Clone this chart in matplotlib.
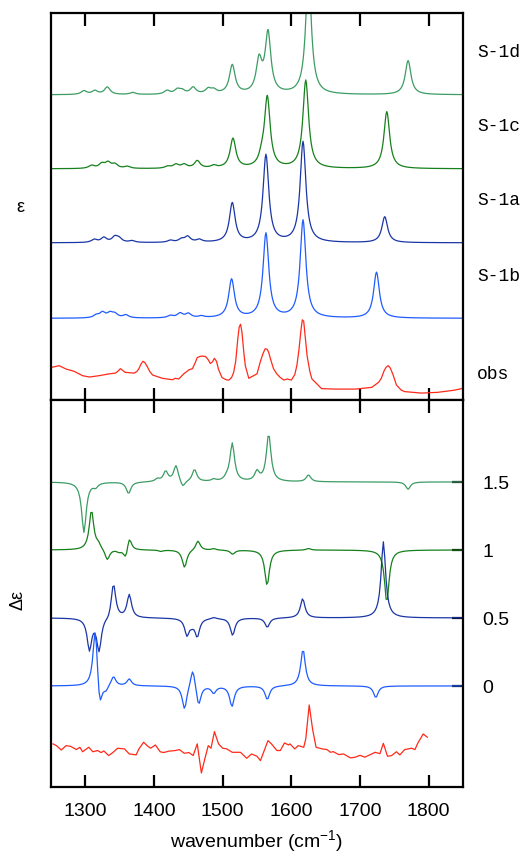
import matplotlib.pyplot as plt
import numpy as np

plt.rcParams['font.family'] = ['Liberation Sans', 'DejaVu Sans']
plt.rcParams['mathtext.default'] = 'regular'

# ---- calculated IR bands: centre (cm-1), intensity ----
s1d_pos = [1298, 1314, 1332, 1369, 1419, 1434, 1441, 1457, 1479, 1487, 1514, 1553, 1566, 1625, 1770]
s1d_amp = [0.05, 0.05, 0.10, 0.027, 0.05, 0.06, 0.045, 0.09, 0.065, 0.05, 0.39, 0.43, 0.81, 1.62, 0.46]
s1c_pos = [1309, 1324, 1333, 1343, 1361, 1420, 1432, 1444, 1463, 1487, 1515, 1557, 1565, 1621, 1739]
s1c_amp = [0.04, 0.06, 0.075, 0.055, 0.027, 0.027, 0.05, 0.05, 0.10, 0.033, 0.40, 0.10, 0.95, 1.19, 0.77]
s1a_pos = [1313, 1327, 1343, 1349, 1368, 1424, 1440, 1449, 1466, 1514, 1563, 1617, 1736]
s1a_amp = [0.04, 0.065, 0.07, 0.05, 0.023, 0.027, 0.04, 0.075, 0.035, 0.53, 1.18, 1.36, 0.35]
s1b_pos = [1316, 1325, 1336, 1343, 1359, 1424, 1438, 1450, 1469, 1513, 1563, 1617, 1724]
s1b_amp = [0.035, 0.07, 0.06, 0.05, 0.04, 0.03, 0.06, 0.055, 0.022, 0.52, 1.14, 1.32, 0.62]

# ---- calculated VCD bands ----
d1d_pos = [1298, 1315, 1363, 1405, 1417, 1432, 1442, 1459, 1487, 1506, 1514, 1550, 1567, 1625, 1770]
d1d_amp = [-0.37, -0.03, -0.085, 0.02, 0.075, 0.12, -0.05, 0.09, 0.015, 0.02, 0.28, 0.07, 0.35, 0.05, -0.054]
d1c_pos = [1309, 1319, 1332, 1349, 1359, 1364, 1410, 1444.5, 1464, 1487, 1514.5, 1564.7, 1625, 1739]
d1c_amp = [0.29, 0.035, -0.08, -0.015, -0.08, 0.105, -0.01, -0.13, 0.07, 0.01, -0.03, -0.26, 0.012, -0.385]
d1a_pos = [1306, 1320, 1334, 1341, 1364, 1448, 1455, 1463, 1487, 1514.5, 1565, 1616.5, 1734]
d1a_amp = [-0.23, -0.24, -0.02, 0.26, 0.17, -0.12, -0.03, -0.13, 0.01, -0.127, -0.069, 0.142, 0.56]
d1b_pos = [1314.5, 1321, 1330, 1341, 1364, 1444.5, 1456.5, 1465, 1487, 1513.5, 1565, 1617, 1723]
d1b_amp = [0.45, -0.21, -0.04, 0.07, 0.05, -0.175, 0.15, -0.15, -0.05, -0.15, -0.10, 0.27, -0.086]

# ---- observed IR ----
obs_x = [1252, 1262, 1272, 1284, 1296, 1306, 1320, 1335, 1344, 1348, 1351, 1354, 1358, 1371,
         1375, 1378, 1381, 1384, 1387, 1390, 1394, 1398, 1412, 1427, 1431, 1436, 1443, 1451,
         1456, 1460, 1463, 1467, 1470, 1475, 1479, 1482, 1485, 1488, 1491, 1494, 1499, 1505,
         1509, 1513, 1516, 1519, 1522, 1524, 1526, 1528, 1531, 1533, 1538, 1545, 1550, 1555,
         1559, 1562, 1565, 1567, 1570, 1574, 1579, 1584, 1589, 1594, 1600, 1605, 1608, 1611,
         1614, 1616, 1618, 1620, 1623, 1627, 1630, 1635, 1644, 1664, 1693, 1717, 1727, 1731,
         1735, 1738, 1741, 1744, 1748, 1753, 1760, 1765, 1789, 1813, 1838, 1850]
obs_y = [0.12, 0.14, 0.095, 0.063, 0.005, -0.013, 0.005, 0.03, 0.04, 0.07, 0.10, 0.08, 0.05, 0.04,
         0.06, 0.10, 0.16, 0.20, 0.18, 0.13, 0.06, 0.014, -0.03, -0.05, -0.03, -0.04, 0.027, 0.085,
         0.10, 0.18, 0.25, 0.265, 0.27, 0.265, 0.22, 0.17, 0.19, 0.24, 0.20, 0.09, -0.02, -0.05,
         -0.054, -0.02, 0.05, 0.20, 0.50, 0.66, 0.70, 0.60, 0.30, 0.14, -0.03, 0.005, 0.03, 0.20,
         0.31, 0.37, 0.36, 0.32, 0.22, 0.10, 0.027, -0.02, -0.054, -0.04, -0.054, 0.02, 0.14, 0.35,
         0.62, 0.76, 0.74, 0.55, 0.27, 0.06, -0.04, -0.085, -0.17, -0.176, -0.176, -0.153, -0.085, -0.03,
         0.07, 0.12, 0.14, 0.11, 0.02, -0.12, -0.19, -0.21, -0.23, -0.22, -0.19, -0.165]

# ---- observed VCD ----
vobs_x = [1253, 1258, 1265, 1272, 1279, 1287, 1292, 1296, 1305, 1311, 1318, 1323, 1327, 1334,
          1340, 1347, 1357, 1364, 1374, 1378, 1385, 1390, 1395, 1402, 1409, 1414, 1421, 1431,
          1437, 1444, 1451, 1457, 1463, 1469, 1474, 1479, 1483, 1488, 1494, 1500, 1506, 1514,
          1526, 1535, 1542, 1550, 1555, 1566, 1571, 1579, 1584, 1590, 1596, 1598, 1605, 1610,
          1618, 1621, 1626, 1631, 1636, 1645, 1652, 1657, 1661, 1669, 1676, 1686, 1693, 1700,
          1707, 1715, 1722, 1729, 1734, 1740, 1746, 1753, 1758, 1765, 1775, 1780, 1784, 1792, 1798]
vobs_y = [-0.426, -0.439, -0.471, -0.439, -0.445, -0.468, -0.451, -0.484, -0.451, -0.484, -0.475, -0.49, -0.478, -0.512,
          -0.49, -0.458, -0.463, -0.5, -0.507, -0.463, -0.414, -0.439, -0.458, -0.434, -0.484, -0.49, -0.48, -0.475,
          -0.468, -0.495, -0.49, -0.512, -0.426, -0.64, -0.537, -0.439, -0.458, -0.336, -0.426, -0.458, -0.463, -0.488,
          -0.488, -0.532, -0.5, -0.517, -0.549, -0.402, -0.426, -0.475, -0.475, -0.419, -0.434, -0.426, -0.463, -0.439,
          -0.451, -0.39, -0.14, -0.32, -0.451, -0.463, -0.468, -0.488, -0.483, -0.505, -0.5, -0.529, -0.524, -0.51,
          -0.524, -0.505, -0.488, -0.498, -0.422, -0.517, -0.512, -0.484, -0.507, -0.468, -0.458, -0.468, -0.422, -0.353, -0.377]

labels_top = ['S-1d', 'S-1c', 'S-1a', 'S-1b']
offsets_top = [3.8, 2.8, 1.8, 0.78]
offsets_bot = [1.5, 1.0, 0.5, 0.0]
colors = ['#3c9c64', '#16801c', '#1a36a6', '#1f5cff']
tick_colors = ['#1d5a2a', '#1d5a2a', '#1a2f8a', '#1a3fb0']
red = '#ff2a1a'


def bands(x, pos, amp, hw):
    y = np.zeros_like(x)
    for p, a in zip(pos, amp):
        y += a * hw ** 2 / ((x - p) ** 2 + hw ** 2)
    return y


fig = plt.figure(figsize=(5.31, 8.54), dpi=100)
ax1 = fig.add_axes([0.096, 0.5304, 0.776, 0.4532])
ax2 = fig.add_axes([0.096, 0.0773, 0.776, 0.4532])

xf = np.arange(1250, 1851, 1.0)
xc = np.arange(1250, 1851, 2.0)

ir = [(s1d_pos, s1d_amp), (s1c_pos, s1c_amp), (s1a_pos, s1a_amp), (s1b_pos, s1b_amp)]
for (pos, amp), off, c, lab in zip(ir, offsets_top, colors, labels_top):
    ax1.plot(xf, off + bands(xf, pos, amp, 5.0), color=c, lw=0.9)
    ax1.text(1.034, off + 0.58, lab, transform=ax1.get_yaxis_transform(),
             family='Liberation Mono', fontsize=13, va='center', ha='left')
ax1.plot(obs_x, obs_y, color=red, lw=0.9)
ax1.text(1.034, 0.04, 'obs', transform=ax1.get_yaxis_transform(),
         family='Liberation Mono', fontsize=13, va='center', ha='left')

vcd = [(d1d_pos, d1d_amp), (d1c_pos, d1c_amp), (d1a_pos, d1a_amp), (d1b_pos, d1b_amp)]
for (pos, amp), off, c in zip(vcd, offsets_bot, colors):
    ax2.plot(xc, off + bands(xc, pos, amp, 4.0), color=c, lw=0.9)
ax2.plot(vobs_x, vobs_y, color=red, lw=0.9)

for ax in (ax1, ax2):
    ax.set_xlim(1250, 1850)
    ax.set_xticks([1300, 1400, 1500, 1600, 1700, 1800])
    ax.tick_params(axis='x', direction='in', top=True, bottom=True,
                   length=9, width=1.6, labelsize=14, pad=11)
    for s in ax.spines.values():
        s.set_linewidth(1.6)

ax1.set_ylim(-0.324, 4.905)
ax1.set_yticks([])
ax1.tick_params(axis='x', labelbottom=False)

ax2.set_ylim(-0.743, 2.103)
ax2.yaxis.tick_right()
ax2.set_yticks(offsets_bot, ['1.5', '1', '0.5', '0'])
ax2.tick_params(axis='y', direction='in', length=8, width=1.6, labelsize=14, pad=14)
for t, c in zip(ax2.yaxis.get_major_ticks(), tick_colors):
    t.tick2line.set_color(c)
ax2.set_xlabel('wavenumber (cm$^{-1}$)', fontsize=14, labelpad=6)

fig.text(20 / 531, 1 - 208 / 854, 'ε', fontsize=13, ha='center', va='center')
fig.text(18 / 531, 1 - 600 / 854, 'Δε', fontsize=13, ha='center', va='center', rotation=90)

fig.savefig('out.png', dpi=100)
